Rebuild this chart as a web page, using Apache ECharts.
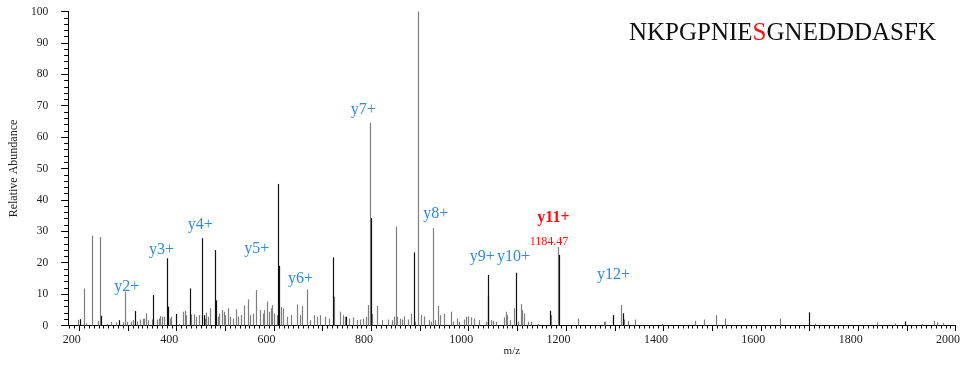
<!DOCTYPE html>
<html>
<head>
<meta charset="utf-8">
<script src="https://cdn.jsdelivr.net/npm/echarts@6/dist/echarts.min.js"></script>
<style>
html,body{margin:0;padding:0;background:#fff;}
#chart{width:963px;height:367px;}
</style>
</head>
<body>
<div id="chart"></div>
<script>
// ---- data ----
const grayPeaks = [
  [196.7,1.8],[209,11.8],[214.3,0.7],[225.9,28.6],[237.5,1.5],[242.9,28.2],[256.5,0.5],[264.7,1.1],
  [275.5,1.0],[290.6,1.0],[293.9,10.8],[297.3,1.2],[305.5,1.2],[311,1.7],[319.2,1.3],[324.5,1.9],
  [330,2.1],[332.7,2.2],[336.7,3.9],[341.6,1.7],[348.4,1.9],[358.6,1.9],[362.7,2.2],[365.3,3.0],
  [370.8,2.8],[373.5,2.8],[385.8,2.2],[389.2,2.8],[405,0.5],[413,4.4],[416.3,4.7],[419.8,3.3],
  [429.9,3.5],[434.7,3.5],[440.2,2.8],[444.9,3.3],[457.2,2.2],[460.6,4.1],[464,2.8],[469.4,5.5],
  [484.5,2.8],[487.8,3.8],[492.7,4.9],[496.7,4.4],[499.4,3.3],[504.9,5.5],[510.2,2.8],[515.1,2.2],
  [521.8,5.2],[526.5,2.8],[532,3.3],[538.8,6.4],[545.7,8.3],[551,3.3],[555.9,3.8],[562.7,11.3],
  [571.4,4.9],[576.3,3.8],[579.6,4.9],[585.1,7.6],[589.8,4.4],[593.3,5.5],[596.7,6.5],[600,3.8],
  [606.9,3.3],[613.7,5.9],[619.2,5.5],[627.3,2.8],[635.5,3.3],[646.3,6.7],[653.1,3.3],[658,6.2],
  [668.2,11.5],[673.1,1.7],[683.1,3.3],[688.6,2.8],[695.3,3.3],[705.5,2.8],[712.3,2.2],[723.9,9.2],
  [736.1,4.4],[741.6,3.3],[746.3,2.8],[753.1,2.2],[761.2,2.6],[770.2,1.7],[777,1.9],[783.7,2.2],
  [788.6,2.8],[792.7,6.5],[797.6,64.6],[800.8,3.7],[811,6.2],[821.2,1.7],[833.5,1.9],[841.6,1.7],
  [847,2.8],[849.8,31.5],[852.8,2.8],[858.6,2.2],[862,1.9],[867.3,2.9],[874.2,1.9],[881,3.7],
  [890,1.2],[896.7,100],[901.4,3.3],[908.2,2.9],[917.8,1.7],[921.9,1.2],[925.9,31.0],[930,1.7],
  [936.7,6.2],[940,3.3],[949,3.7],[962.7,4.4],[967,1.2],[976.3,2.2],[981,1.2],[989.8,1.9],
  [994.7,2.8],[999.4,2.9],[1004.9,2.6],[1011.6,2.2],[1021.8,1.7],[1035.5,1.2],[1045.7,1.7],
  [1049,1.5],[1056,1.2],[1072.9,2.6],[1076.3,4.4],[1079.6,3.3],[1084,1.7],[1093.3,5.5],[1102,1.2],
  [1107,6.8],[1110.2,4.9],[1113.7,3.8],[1122.4,1.2],[1127,1.2],[1143,0.5],[1168,3.3],[1184,25.0],
  [1224.5,2.2],[1276.9,1.2],[1279,1.2],[1297.3,3.3],[1313,6.5],[1319.8,1.9],[1326.5,1.5],
  [1341.6,1.9],[1396,0.5],[1464,1.5],[1482.4,1.9],[1508.2,3.3],[1526.5,2.2],[1639.6,2.2],
  [1711,0.6],[1838,1.0],[1875.5,0.7],[1931,0.5],[1955.9,1.5],[1961,1.0],[1975,0.8]
];
const blackPeaks = [
  [200.8,2.0],[244.9,3.1],[282.4,1.7],[314.3,4.6],[351.8,9.7],[381,21.4],[383,6.0],[398,3.7],
  [426.5,11.8],[452.4,27.8],[455.9,3.3],[479.6,24.0],[481,8.0],[609,45.1],[610,19.0],[721.2,21.7],
  [748.4,2.8],[798.5,34.2],[887.1,23.3],[1039.6,16.1],[1040.5,9.4],[1098,16.8],[1166.7,4.7],
  [1184.47,22.5],[1296,3.3],[1316,3.9],[1700,4.2],[1895.9,1.3]
];
const annoText = ['y2+','y3+','y4+','y5+','y6+','y7+','y8+','y9+','y10+','y11+','1184.47','y12+'];
const annoMz   = [297.3,368.8,448.4,564.7,654.5,783.1,932.0,1028,1092,1173.9,1164.7,1297.3];
const annoAb   = [12.3,24.0,32.0,24.4,14.8,68.6,35.5,21.8,21.8,34.2,26.6,16.1];
const peptideParts = ['NKPGPNIE','S','GNEDDDASFK'];
const xMinorTicks = []; for (let v = 180; v <= 2000; v += 10) xMinorTicks.push(v);
const xMajorTicks = []; for (let v = 200; v <= 2000; v += 100) xMajorTicks.push(v);
const xLabelValues = [200,400,600,800,1000,1200,1400,1600,1800,2000];

// ---- chart ----
const SERIF = "'Liberation Serif','Times New Roman',serif";
const BLUE = '#2f8ad8', RED = '#ff1010';
const chart = echarts.init(document.getElementById('chart'), null, {renderer:'canvas'});

function stickSeries(data, color) {
  return {
    type: 'custom', xAxisIndex: 0, yAxisIndex: 0, data: data, silent: true, z: color === '#111' ? 3 : 2,
    renderItem: function (params, api) {
      const p0 = api.coord([api.value(0), 0]);
      const p1 = api.coord([api.value(0), api.value(1)]);
      const x = Math.round(p0[0]) + 0.5;
      return {type:'line', shape:{x1:x, y1:p0[1], x2:x, y2:p1[1]}, style:{stroke:color, lineWidth:1.2}};
    }
  };
}

const annoData = annoText.map((t, i) => [annoMz[i], annoAb[i], i]);

const option = {
  animation: false,
  backgroundColor: '#fff',
  title: {
    text: '{a|' + peptideParts[0] + '}{b|' + peptideParts[1] + '}{a|' + peptideParts[2] + '}',
    left: 624, top: 16,
    textStyle: {
      fontWeight: 'normal',
      rich: {
        a: {fontFamily: SERIF, fontSize: 25, fontWeight: 'normal', color: '#111'},
        b: {fontFamily: SERIF, fontSize: 25, fontWeight: 'normal', color: RED}
      }
    }
  },
  grid: {left: 66, right: 4, top: 11.5, bottom: 41.5, containLabel: false},
  xAxis: [
    {
      type: 'value', min: 177, max: 2000, position: 'bottom',
      axisLine: {show: true, onZero: false, lineStyle: {color: '#000', width: 1}},
      axisTick: {show: true, length: 3, customValues: xMinorTicks, lineStyle: {color: '#000'}},
      axisLabel: {show: true, customValues: xMinorTicks, formatter: function () { return ''; }},
      splitLine: {show: false},
      name: 'm/z', nameLocation: 'middle', nameGap: 20,
      nameTextStyle: {fontFamily: SERIF, fontSize: 11, color: '#222'}
    },
    {
      type: 'value', min: 177, max: 2000, position: 'bottom',
      axisLine: {show: false, onZero: false},
      axisTick: {show: true, length: 5.5, customValues: xMajorTicks, lineStyle: {color: '#000'}},
      axisLabel: {show: true, customValues: xLabelValues, margin: 8, padding: [0, 15, 0, 0],
        formatter: function (v) { return String(v); },
        fontFamily: SERIF, fontSize: 12, color: '#222'},
      splitLine: {show: false}
    }
  ],
  yAxis: {
    type: 'value', min: 0, max: 100, interval: 10,
    axisLine: {show: true, lineStyle: {color: '#000', width: 1}},
    axisTick: {show: true, length: 7, lineStyle: {color: '#000'}},
    minorTick: {show: true, splitNumber: 5, length: 4, lineStyle: {color: '#000'}},
    axisLabel: {margin: 20, fontFamily: SERIF, fontSize: 11.5, color: '#222', padding: [5, 0, 0, 0]},
    splitLine: {show: false},
    name: 'Relative Abundance', nameLocation: 'middle', nameGap: 46,
    nameTextStyle: {fontFamily: SERIF, fontSize: 12, color: '#222'}
  },
  series: [
    stickSeries(grayPeaks, '#7f7f7f'),
    stickSeries(blackPeaks, '#111'),
    {
      type: 'custom', xAxisIndex: 0, yAxisIndex: 0, data: annoData, silent: true, z: 5,
      renderItem: function (params, api) {
        const i = api.value(2);
        const p = api.coord([api.value(0), api.value(1)]);
        const t = annoText[i];
        let fill = BLUE, font = '16px ' + SERIF;
        if (t === 'y11+') { fill = RED; font = 'bold 16px ' + SERIF; }
        else if (t === '1184.47') { fill = RED; font = '12px ' + SERIF; }
        return {type:'text', x: p[0], y: p[1],
          style:{text: t, fill: fill, font: font, align: 'center', verticalAlign: 'middle'}};
      }
    }
  ]
};
chart.setOption(option);
</script>
</body>
</html>
